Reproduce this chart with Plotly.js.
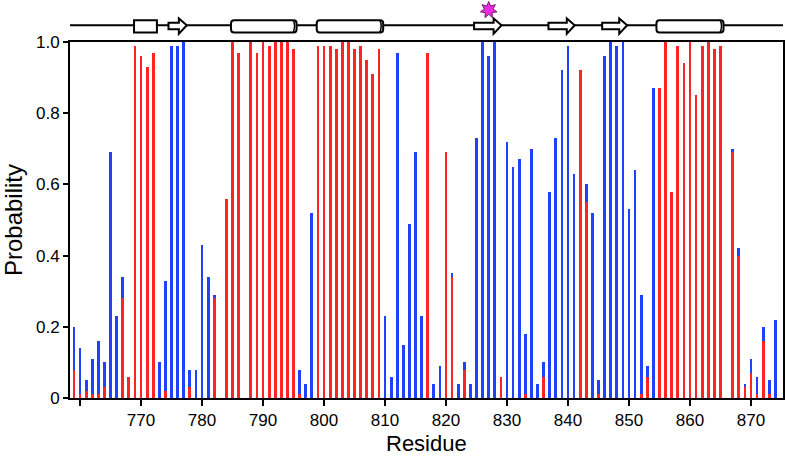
<!DOCTYPE html>
<html><head><meta charset="utf-8">
<script src="https://cdn.plot.ly/plotly-3.0.1.min.js"></script>
<style>html,body{margin:0;padding:0;background:#fff}#chart{width:786px;height:456px}</style>
</head><body><div id="chart"></div>
<script>
// Residue numbers (categories)
const residues = [
 759,760,761,762,763,764,765,766,767,768,
 769,770,771,772,773,774,775,776,777,778,
 779,780,781,782,783,784,785,786,787,788,
 789,790,791,792,793,794,795,796,797,798,
 799,800,801,802,803,804,805,806,807,808,
 809,810,811,812,813,814,815,816,817,818,
 819,820,821,822,823,824,825,826,827,828,
 829,830,831,832,833,834,835,836,837,838,
 839,840,841,842,843,844,845,846,847,848,
 849,850,851,852,853,854,855,856,857,858,
 859,860,861,862,863,864,865,866,867,868,
 869,870,871,872,873,874];

// Blue series probability
const blueProb = [
 0.20,0.14,0.05,0.11,0.16,0.10,0.69,0.23,0.34,0,
 0,0,0,0,0.10,0.33,0.99,0.99,1.00,0.08,
 0.08,0.43,0.34,0.29,0,0,0,0,0,0,
 0,0,0,0,0,0,0,0.08,0.04,0.52,
 0,0,0,0,0,0,0,0,0,0,
 0,0.23,0.06,0.97,0.15,0.49,0.69,0.23,0,0.04,
 0.09,0,0.35,0.04,0.10,0.04,0.73,1.00,0.96,1.00,
 0,0.72,0.65,0.67,0.18,0.70,0.04,0.10,0.58,0.73,
 0.92,0.99,0.63,0,0.60,0.52,0.05,0.96,1.00,0.99,
 1.00,0.53,0.64,0.29,0.09,0.87,0,0,0,0,
 0,0,0,0,0,0,0,0,0.70,0.42,
 0.04,0.11,0.06,0.20,0.05,0.22];

// Red series probability
const redProb = [
 0.08,0.01,0.02,0.01,0.01,0.03,0,0,0.28,0.06,
 0.99,0.96,0.93,0.97,0,0.02,0,0,0,0.03,
 0,0,0,0.28,0,0.56,1.00,0.97,0,1.00,
 0.97,1.00,0.99,1.00,1.00,1.00,0.98,0.01,0,0,
 0.99,0.99,0.99,0.98,1.00,1.00,0.98,0.99,0.95,0.91,
 0.98,0,0,0,0,0,0,0,0.97,0,
 0,0.69,0.34,0,0.08,0,0,0,0,0,
 0.06,0,0,0,0.01,0,0,0.06,0,0,
 0,0,0,0.92,0.55,0,0.01,0,0,0,
 0,0,0,0.01,0.06,0,0.87,1.00,0.58,0.99,
 0.94,1.00,0.85,0.99,1.00,0.98,0.99,0,0.69,0.40,
 0.03,0.07,0.01,0.16,0.01,0];

const xTickVals = [760,770,780,790,800,810,820,830,840,850,860,870];
const xTickText = ['','770','780','790','800','810','820','830','840','850','860','870'];
const yTickVals = [0,0.2,0.4,0.6,0.8,1.0];
const yTickText = ['0','0.2','0.4','0.6','0.8','1.0'];

// Secondary structure (residue ranges)
const boxHelices = [[768.85,772.6]];
const cylHelices = [[784.75,795.5],[798.8,809.7],[854.5,865.5]];
const strands = [[774.5,777.5],[824.6,829.1],[836.8,841.1],[845.6,849.7]];
const starResidue = 827;

const BLUE = '#1f42ff', RED = '#ff2424';
const FONT = '"Liberation Sans", Arial, Helvetica, sans-serif';

const traces = [
  {type:'bar', x:residues, y:blueProb, width:0.45, marker:{color:BLUE, line:{width:0}}, hoverinfo:'x+y', showlegend:false},
  {type:'bar', x:residues, y:redProb, width:0.45, marker:{color:RED, line:{width:0}}, hoverinfo:'x+y', showlegend:false}
];

// Shapes for the secondary-structure track (y in paper units above the plot)
const yMid = 1.047, hTop = 1.061, hBot = 1.027, sTop = 1.054, sBot = 1.036, aTop = 1.066, aBot = 1.023;
const shapes = [];
shapes.push({type:'line', xref:'paper', yref:'paper', x0:0, x1:1, y0:yMid, y1:yMid, line:{color:'#000', width:2}, layer:'above'});
boxHelices.forEach(([a,b]) => {
  shapes.push({type:'rect', xref:'x', yref:'paper', x0:a, x1:b, y0:hBot, y1:hTop, fillcolor:'#fff', line:{color:'#000', width:2}, layer:'above'});
});
cylHelices.forEach(([a,b]) => {
  const rx = 0.5, ry = 0.009;
  const p = `M ${a+rx},${hTop} L ${b-rx},${hTop} Q ${b},${hTop} ${b},${hTop-ry} L ${b},${hBot+ry} Q ${b},${hBot} ${b-rx},${hBot} L ${a+rx},${hBot} Q ${a},${hBot} ${a},${hBot+ry} L ${a},${hTop-ry} Q ${a},${hTop} ${a+rx},${hTop} Z`;
  shapes.push({type:'path', xref:'x', yref:'paper', path:p, fillcolor:'#fff', line:{color:'#000', width:2}, layer:'above'});
  const c = b-0.55;
  shapes.push({type:'path', xref:'x', yref:'paper', path:`M ${c},${hTop} Q ${c+0.45},${yMid} ${c},${hBot}`, line:{color:'#000', width:1.5}, layer:'above'});
});
strands.forEach(([a,b]) => {
  const h = b-1.3;
  const p = `M ${a},${sBot} L ${a},${sTop} L ${h},${sTop} L ${h},${aTop} L ${b},${yMid} L ${h},${aBot} L ${h},${sBot} Z`;
  shapes.push({type:'path', xref:'x', yref:'paper', path:p, fillcolor:'#fff', line:{color:'#000', width:2}, layer:'above'});
});
// star marker (7 points) in pixel units around the anchor
(function(){
  const n = 7, R = 8.5, r = 4.4; let p = '';
  for (let i=0;i<2*n;i++){
    const ang = Math.PI/2 + i*Math.PI/n;
    const rad = (i%2===0)?R:r;
    p += (i===0?'M ':' L ') + (rad*Math.cos(ang)).toFixed(2) + ',' + (rad*Math.sin(ang)).toFixed(2);
  }
  p += ' Z';
  shapes.push({type:'path', xref:'x', yref:'paper', xsizemode:'pixel', ysizemode:'pixel', xanchor:starResidue, yanchor:1.09, path:p, fillcolor:'#e62ee0', line:{color:'#7a1a70', width:1}, layer:'above'});
})();

const layout = {
  width:786, height:456,
  margin:{l:70, r:3, t:42, b:58},
  paper_bgcolor:'#fff', plot_bgcolor:'#fff',
  barmode:'overlay', bargap:0,
  font:{family:FONT, color:'#000', size:17},
  showlegend:false,
  xaxis:{
    range:[758.35,875.25], tickmode:'array', tickvals:xTickVals, ticktext:xTickText,
    ticks:'outside', ticklen:6, tickwidth:2, tickcolor:'#000',
    showline:true, linewidth:2, linecolor:'#000', mirror:true,
    showgrid:false, zeroline:false,
    tickfont:{family:FONT, size:17}
  },
  yaxis:{
    range:[0,1], tickmode:'array', tickvals:yTickVals, ticktext:yTickText,
    ticks:'outside', ticklen:5, tickwidth:2, tickcolor:'#000',
    showline:true, linewidth:2, linecolor:'#000', mirror:true,
    showgrid:false, zeroline:false,
    tickfont:{family:FONT, size:17},
    title:{text:'Probability', font:{family:FONT, size:24}, standoff:8}
  },
  annotations:[{
    text:'Residue', xref:'paper', yref:'paper', x:0.5, y:-0.168, xanchor:'center', yanchor:'bottom',
    showarrow:false, font:{family:FONT, size:22, color:'#000'}
  }],
  shapes:shapes
};

Plotly.newPlot('chart', traces, layout, {staticPlot:true, displayModeBar:false});
</script>
</body></html>
